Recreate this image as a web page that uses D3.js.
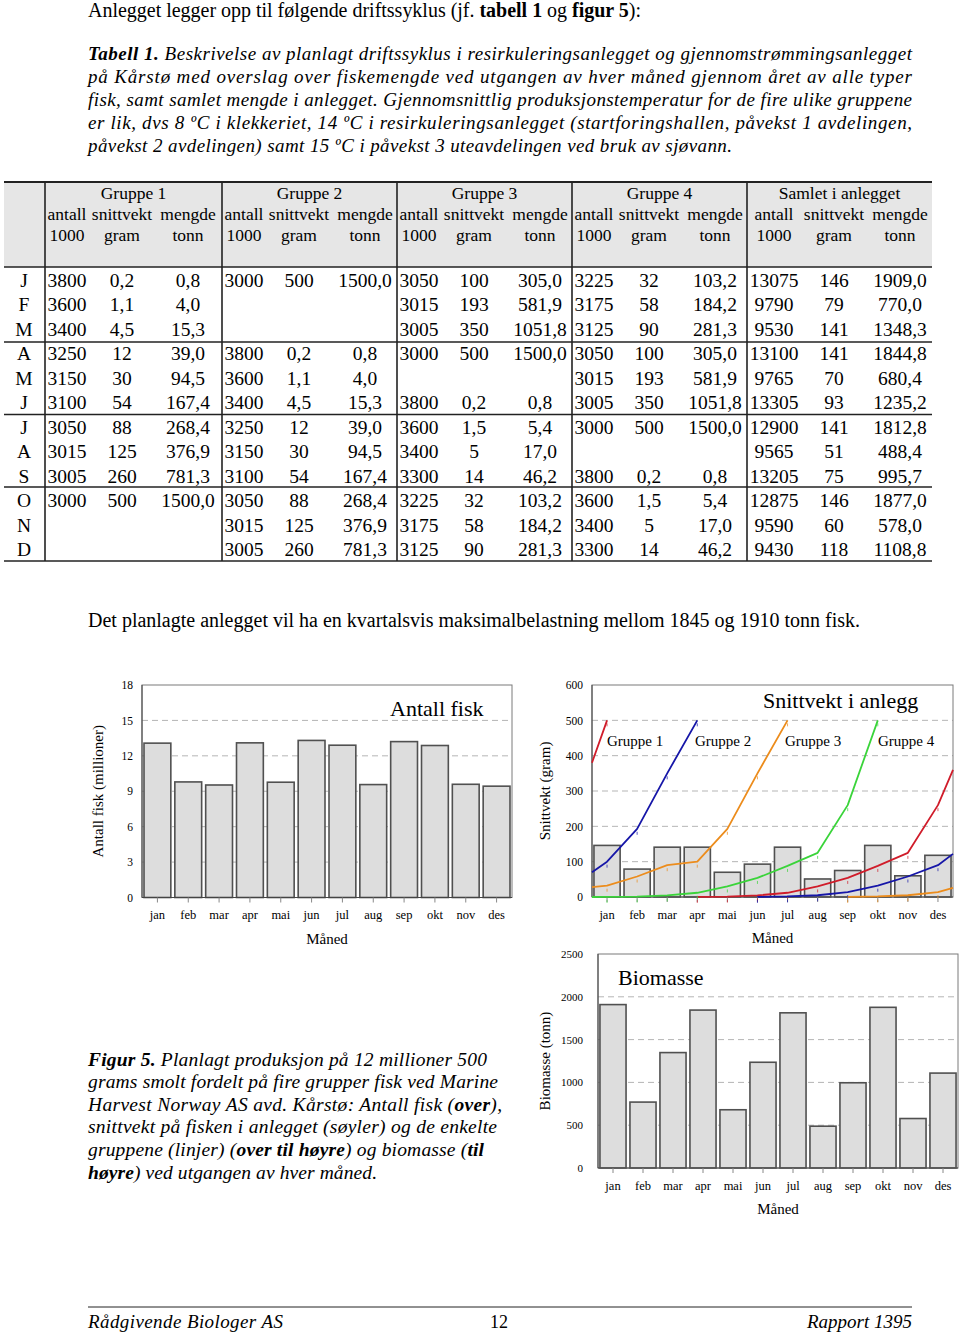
<!DOCTYPE html>
<html><head><meta charset="utf-8">
<script src="https://cdn.jsdelivr.net/npm/d3@7"></script>
<style>
body{margin:0;background:#fff}
svg{display:block}
text{font-family:"Liberation Serif","Times New Roman",Times,serif;fill:#000}
</style>
</head><body>
<svg id="page" width="960" height="1336"></svg>
<script>
// ---------------- DATA ----------------
const monthLetters = ["J","F","M","A","M","J","J","A","S","O","N","D"];
const monthShort = ["jan","feb","mar","apr","mai","jun","jul","aug","sep","okt","nov","des"];
const groupNames = ["Gruppe 1","Gruppe 2","Gruppe 3","Gruppe 4","Samlet i anlegget"];
const subHeads = ["antall","snittvekt","mengde"];
const unitHeads = ["1000","gram","tonn"];

const g1Antall = [3800,3600,3400,3250,3150,3100,3050,3015,3005,3000,null,null];
const g1Snitt  = [0.2,1.1,4.5,12,30,54,88,125,260,500,null,null];
const g1Mengde = [0.8,4.0,15.3,39.0,94.5,167.4,268.4,376.9,781.3,1500.0,null,null];

const g2Antall = [3000,null,null,3800,3600,3400,3250,3150,3100,3050,3015,3005];
const g2Snitt  = [500,null,null,0.2,1.1,4.5,12,30,54,88,125,260];
const g2Mengde = [1500.0,null,null,0.8,4.0,15.3,39.0,94.5,167.4,268.4,376.9,781.3];

const g3Antall = [3050,3015,3005,3000,null,3800,3600,3400,3300,3225,3175,3125];
const g3Snitt  = [100,193,350,500,null,0.2,1.5,5,14,32,58,90];
const g3Mengde = [305.0,581.9,1051.8,1500.0,null,0.8,5.4,17.0,46.2,103.2,184.2,281.3];

const g4Antall = [3225,3175,3125,3050,3015,3005,3000,null,3800,3600,3400,3300];
const g4Snitt  = [32,58,90,100,193,350,500,null,0.2,1.5,5,14];
const g4Mengde = [103.2,184.2,281.3,305.0,581.9,1051.8,1500.0,null,0.8,5.4,17.0,46.2];

const totAntall = [13075,9790,9530,13100,9765,13305,12900,9565,13205,12875,9590,9430];
const totSnitt  = [146,79,141,141,70,93,141,51,75,146,60,118];
const totMengde = [1909.0,770.0,1348.3,1844.8,680.4,1235.2,1812.8,488.4,995.7,1877.0,578.0,1108.8];

// Chart series (line chart points: left edge, jan..des, right edge)
const lineIndex = [-0.5,0,1,2,3,4,5,6,7,8,9,10,11,11.5];
const lineRed    = [380,500,null,null,0.2,1.1,4.5,12,30,54,88,125,260,360];
const lineBlue   = [70,100,193,350,500,null,0.2,1.5,5,14,32,58,90,122];
const lineOrange = [28,32,58,90,100,193,350,500,null,0.2,1.5,5,14,26];
const lineGreen  = [0,0.2,1.1,4.5,12,30,54,88,125,260,500,null,null,null];
const lineLabels = ["Gruppe 1","Gruppe 2","Gruppe 3","Gruppe 4"];

const antallTicks = [0,3,6,9,12,15,18];
const snittTicks  = [0,100,200,300,400,500,600];
const bioTicks    = [0,500,1000,1500,2000,2500];

// ---------------- PAGE ----------------
const svg = d3.select("#page");
const serif = '"Liberation Serif","Times New Roman",Times,serif';

function richLine(x, y, parts, size, opts={}) {
  const t = svg.append("text").attr("x", x).attr("y", y).attr("font-size", size)
    .attr("font-style", opts.italic ? "italic" : "normal");
  if (opts.len) t.attr("textLength", opts.len).attr("lengthAdjust", "spacing");
  if (opts.anchor) t.attr("text-anchor", opts.anchor);
  parts.forEach(p => {
    const s = (typeof p === "string") ? {t:p} : p;
    t.append("tspan").attr("font-weight", s.b ? "bold" : "normal").text(s.t);
  });
  return t;
}

richLine(88, 17, ["Anlegget legger opp til følgende driftssyklus (jf. ", {t:"tabell 1",b:1}, " og ", {t:"figur 5",b:1}, "):"], 20, {len:553});

const capLines = [
  [{t:"Tabell 1.",b:1}, " Beskrivelse av planlagt driftssyklus i resirkuleringsanlegget og gjennomstrømmingsanlegget"],
  ["på Kårstø med overslag over fiskemengde ved utgangen av hver måned gjennom året av alle typer"],
  ["fisk, samt samlet mengde i anlegget. Gjennomsnittlig produksjonstemperatur for de fire ulike gruppene"],
  ["er lik, dvs 8 ºC i klekkeriet, 14 ºC i resirkuleringsanlegget (startforingshallen, påvekst 1 avdelingen,"],
  ["påvekst 2 avdelingen) samt 15 ºC i påvekst 3 uteavdelingen ved bruk av sjøvann."]
];
capLines.forEach((l,i) => richLine(88, 60 + i*23, l, 19, {italic:true, len: i<4 ? 824 : 644}));

// ---------------- TABLE ----------------
const tTop = 182, tHead = 267, tLeft = 4, tRight = 932, tBottom = 561;
const vLines = [45,222,397,572,747];
const rowY = i => 280 + i*24.5;

svg.append("rect").attr("x", tLeft).attr("y", tTop).attr("width", tRight - tLeft).attr("height", tHead - tTop).attr("fill", "#e6e6e6");

const groups = [
  [g1Antall,g1Snitt,g1Mengde],
  [g2Antall,g2Snitt,g2Mengde],
  [g3Antall,g3Snitt,g3Mengde],
  [g4Antall,g4Snitt,g4Mengde],
  [totAntall,totSnitt,totMengde]
];
const fmtNum = v => v == null ? "" : String(v);
const fmtDec = v => v == null ? "" : v.toFixed(1).replace(".", ",");
const fmtSnitt = v => v == null ? "" : String(v).replace(".", ",");

groups.forEach((grp, gi) => {
  const x0 = vLines[gi];
  const x1 = gi < 4 ? vLines[gi+1] : tRight;
  const offs = gi < 4 ? [22,77,143] : [27,87,153];
  svg.append("text").attr("x", (x0+x1)/2).attr("y", 193).attr("dy","0.35em").attr("text-anchor","middle").attr("font-size",17.5).text(groupNames[gi]);
  subHeads.forEach((h,k) => {
    svg.append("text").attr("x", x0 + offs[k]).attr("y", 214).attr("dy","0.35em").attr("text-anchor","middle").attr("font-size",17.5).text(h);
    svg.append("text").attr("x", x0 + offs[k]).attr("y", 235).attr("dy","0.35em").attr("text-anchor","middle").attr("font-size",17.5).text(unitHeads[k]);
  });
  const fmts = [fmtNum, fmtSnitt, fmtDec];
  grp.forEach((col, k) => {
    svg.append("g").selectAll("text").data(col).join("text")
      .attr("x", x0 + offs[k]).attr("y", (d,i) => rowY(i)).attr("dy","0.35em")
      .attr("text-anchor","middle").attr("font-size",19.5)
      .text(d => fmts[k](d));
  });
});
svg.append("g").selectAll("text").data(monthLetters).join("text")
  .attr("x", 24).attr("y", (d,i) => rowY(i)).attr("dy","0.35em")
  .attr("text-anchor","middle").attr("font-size",19.5).text(d => d);

// table lines
[tTop, tHead, 342, 414.5, 487, tBottom].forEach((y,i) => {
  svg.append("line").attr("x1", tLeft).attr("x2", tRight).attr("y1", y).attr("y2", y)
    .attr("stroke", "#222").attr("stroke-width", i===0 ? 2 : 1.6);
});
vLines.forEach(x => {
  svg.append("line").attr("x1", x).attr("x2", x).attr("y1", tTop).attr("y2", tBottom)
    .attr("stroke", "#222").attr("stroke-width", 1.6);
});

richLine(88, 627, ["Det planlagte anlegget vil ha en kvartalsvis maksimalbelastning mellom 1845 og 1910 tonn fisk."], 20, {len:772});

// ---------------- CHARTS ----------------
function chart(cfg) {
  const g = svg.append("g");
  const x = d3.scaleBand().domain(monthShort).range([cfg.x0, cfg.x1]).paddingInner(0.13).paddingOuter(0.065);
  const y = d3.scaleLinear().domain([0, cfg.yMax]).range([cfg.y1, cfg.y0]);
  // grid
  g.append("g").selectAll("line").data(cfg.ticks.filter(t => t > 0 && t < cfg.yMax)).join("line")
    .attr("x1", cfg.x0).attr("x2", cfg.x1).attr("y1", d => y(d)).attr("y2", d => y(d))
    .attr("stroke", "#b5b5b5").attr("stroke-width", 1).attr("stroke-dasharray", "6,4");
  // bars
  g.append("g").selectAll("rect").data(cfg.values).join("rect")
    .attr("x", (d,i) => x(monthShort[i])).attr("width", x.bandwidth())
    .attr("y", d => y(d)).attr("height", d => y(0) - y(d))
    .attr("fill", "#dddddd").attr("stroke", "#505050").attr("stroke-width", 1.6);
  // frame
  g.append("rect").attr("x", cfg.x0).attr("y", cfg.y0).attr("width", cfg.x1 - cfg.x0).attr("height", cfg.y1 - cfg.y0)
    .attr("fill", "none").attr("stroke", "#7a7a7a").attr("stroke-width", 1);
  g.append("line").attr("x1", cfg.x0).attr("x2", cfg.x0).attr("y1", cfg.y0).attr("y2", cfg.y1).attr("stroke", "#444");
  g.append("line").attr("x1", cfg.x0).attr("x2", cfg.x1).attr("y1", cfg.y1).attr("y2", cfg.y1).attr("stroke", "#444");
  // x axis
  const xa = g.append("g").attr("transform", `translate(0,${cfg.y1})`)
    .call(d3.axisBottom(x).tickSizeInner(5).tickSizeOuter(0).tickPadding(8));
  xa.select(".domain").remove();
  xa.selectAll("line").attr("stroke", "#888");
  xa.selectAll("text").attr("font-family", serif).attr("font-size", 12.5).attr("fill", "#000");
  // y axis
  const ya = g.append("g").attr("transform", `translate(${cfg.x0},0)`)
    .call(d3.axisLeft(y).tickValues(cfg.ticks).tickSize(0).tickPadding(cfg.yPad).tickFormat(d3.format("d")));
  ya.select(".domain").remove();
  ya.selectAll("text").attr("font-family", serif).attr("font-size", cfg.yFont).attr("fill", "#000");
  // labels
  g.append("text").attr("x", (cfg.x0 + cfg.x1)/2).attr("y", cfg.y1 + 41).attr("dy", "0.35em")
    .attr("text-anchor", "middle").attr("font-size", 15).text("Måned");
  g.append("text").attr("transform", `translate(${cfg.yLabelX},${(cfg.y0 + cfg.y1)/2}) rotate(-90)`)
    .attr("dy", "0.35em").attr("text-anchor", "middle").attr("font-size", 15).text(cfg.yLabel);
  g.append("text").attr("x", cfg.titleX).attr("y", cfg.titleY).attr("dy", "0.35em")
    .attr("font-size", 22).text(cfg.title);
  return {g, x, y};
}

chart({x0:142, x1:512, y0:685, y1:897.5, yMax:18, ticks:antallTicks,
  values: totAntall.map(d => d/1000), yPad:9, yFont:11.5,
  yLabel:"Antall fisk (millioner)", yLabelX:98, title:"Antall fisk", titleX:390, titleY:708});

const c2 = chart({x0:592, x1:953, y0:685, y1:897, yMax:600, ticks:snittTicks,
  values: totSnitt, yPad:9, yFont:11.5,
  yLabel:"Snittvekt (gram)", yLabelX:545, title:"Snittvekt i anlegg", titleX:763, titleY:700});

// lines on chart 2
const xl = d3.scaleLinear().domain([-0.5, 11.5]).range([592, 953]);
const series = [
  {vals: lineRed, color: "#d01c2a"},
  {vals: lineBlue, color: "#1616a8"},
  {vals: lineOrange, color: "#ec8c1c"},
  {vals: lineGreen, color: "#3ad43a"}
];
const lineGen = d3.line().defined(d => d[1] != null)
  .x(d => xl(d[0])).y(d => c2.y(d[1])).curve(d3.curveLinear);
series.forEach(s => {
  const pts = lineIndex.map((xi, i) => [xi, s.vals[i]]);
  c2.g.append("path").datum(pts).attr("d", lineGen).attr("fill", "none")
    .attr("stroke", s.color).attr("stroke-width", 1.8).attr("stroke-linejoin", "round");
  c2.g.append("g").selectAll("line").data(pts.filter(p => p[1] != null && p[0] >= 0 && p[0] <= 11)).join("line")
    .attr("x1", p => xl(p[0])).attr("x2", p => xl(p[0]))
    .attr("y1", p => c2.y(p[1]) + 3).attr("y2", p => c2.y(p[1]) + 6)
    .attr("stroke", s.color).attr("stroke-width", 1).attr("opacity", 0.7);
});
const labelOffsets = [15, 103, 193, 286];
lineLabels.forEach((t,i) => {
  c2.g.append("text").attr("x", 592 + labelOffsets[i]).attr("y", 741).attr("dy", "0.35em")
    .attr("font-size", 15).text(t);
});

chart({x0:598, x1:958, y0:954, y1:1168, yMax:2500, ticks:bioTicks,
  values: totMengde, yPad:15, yFont:11,
  yLabel:"Biomasse  (tonn)", yLabelX:545, title:"Biomasse", titleX:618, titleY:977});

// ---------------- FIGURE CAPTION ----------------
const figLines = [
  [{t:"Figur 5.",b:1}, " Planlagt produksjon på 12 millioner 500"],
  ["grams smolt fordelt på fire grupper fisk ved Marine"],
  ["Harvest Norway AS avd. Kårstø: Antall fisk (", {t:"over",b:1}, "),"],
  ["snittvekt på fisken i anlegget (søyler) og de enkelte"],
  ["gruppene (linjer) (", {t:"over til høyre",b:1}, ") og biomasse (", {t:"til",b:1}],
  [{t:"høyre",b:1}, ") ved utgangen av hver måned."]
];
const figLens = [399, 410, 414, 409, 396, 289];
const figBase = [1066, 1088, 1111, 1133, 1156, 1179];
figLines.forEach((l,i) => richLine(88, figBase[i], l, 19.5, {italic:true, len: figLens[i]}));

// ---------------- FOOTER ----------------
svg.append("line").attr("x1", 88).attr("x2", 912).attr("y1", 1307).attr("y2", 1307).attr("stroke", "#222").attr("stroke-width", 1);
richLine(88, 1328, ["Rådgivende Biologer AS"], 19, {italic:true, len:195});
richLine(499, 1328, ["12"], 18, {anchor:"middle"});
richLine(912, 1328, ["Rapport 1395"], 19, {italic:true, anchor:"end"});
</script>
</body></html>
